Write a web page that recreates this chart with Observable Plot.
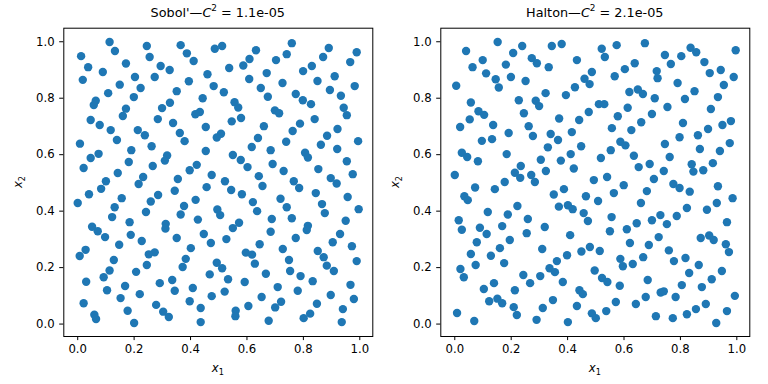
<!DOCTYPE html>
<html>
<head>
<meta charset="utf-8">
<script src="https://cdn.jsdelivr.net/npm/d3@7"></script>
<script src="https://cdn.jsdelivr.net/npm/@observablehq/plot@0.6"></script>
<style>
  body { margin: 0; background: white; }
  #fig { position: relative; width: 768px; height: 384px; background: white; font-family: "DejaVu Sans", sans-serif; color: black; }
  .panel { position: absolute; top: 0; }
  .lbl { position: absolute; white-space: nowrap; transform: translate(-50%, -50%); line-height: 1; }
  .title { font-size: 12.8px; }
  .axlbl { font-size: 11.7px; }
  sub, sup { font-size: 70%; line-height: 0; }
</style>
</head>
<body>
<div id="fig">
  <div class="panel" id="left" style="left:0px"></div>
  <div class="panel" id="right" style="left:384px"></div>
  <div class="lbl title" style="left:217.8px; top:13px">Sobol'—<i>C</i><sup>2</sup> = 1.1e-05</div>
  <div class="lbl title" style="left:594.8px; top:13px">Halton—<i>C</i><sup>2</sup> = 2.1e-05</div>
  <div class="lbl axlbl" style="left:217.8px; top:369px"><i>x</i><sub>1</sub></div>
  <div class="lbl axlbl" style="left:594.8px; top:369px"><i>x</i><sub>1</sub></div>
  <div class="lbl axlbl" style="left:19px; top:182px; transform: translate(-50%,-50%) rotate(-90deg)"><i>x</i><sub>2</sub></div>
  <div class="lbl axlbl" style="left:396px; top:182px; transform: translate(-50%,-50%) rotate(-90deg)"><i>x</i><sub>2</sub></div>
</div>
<script>
const tickValues = [0, 0.2, 0.4, 0.6, 0.8, 1.0];
const tickLabels = ["0.0", "0.2", "0.4", "0.6", "0.8", "1.0"];

const sobolX = [0.113,0.245,0.365,0.486,0.512,0.632,0.759,0.890,0.132,0.012,0.255,0.387,0.411,0.609,0.587,0.703,0.741,0.870,0.989,0.966,0.171,0.037,0.089,0.294,0.326,0.537,0.460,0.830,0.799,0.670,0.018,0.203,0.273,0.394,0.608,0.911,0.850,0.726,0.149,0.223,0.482,0.649,0.982,0.894,0.108,0.351,0.518,0.773,0.199,0.443,0.674,0.798,0.933,0.064,0.057,0.327,0.556,0.569,0.827,0.299,0.171,0.943,0.699,0.714,0.433,0.417,0.160,0.954,0.046,0.284,0.579,0.546,0.338,0.840,0.078,0.454,0.660,0.788,0.117,0.213,0.238,0.362,0.508,0.493,0.762,0.921,0.884,0.639,0.139,0.379,0.739,0.994,0.008,0.262,0.862,0.617,0.190,0.454,0.684,0.920,0.806,0.317,0.550,0.816,0.074,0.046,0.309,0.181,0.422,0.578,0.691,0.954,0.021,0.266,0.602,0.397,0.853,0.730,0.975,0.142,0.475,0.642,0.232,0.216,0.522,0.355,0.766,0.897,0.918,0.100,0.083,0.457,0.655,0.785,0.544,0.344,0.040,0.285,0.582,0.844,0.156,0.259,0.418,0.719,0.957,0.000,0.621,0.866,0.131,0.377,0.741,0.996,0.495,0.505,0.636,0.876,0.242,0.365,0.122,0.426,0.688,0.759,0.950,0.184,0.312,0.572,0.051,0.311,0.550,0.816,0.812,0.071,0.684,0.188,0.447,0.930,0.097,0.351,0.527,0.773,0.227,0.472,0.904,0.147,0.645,0.972,0.401,0.727,0.028,0.007,0.273,0.252,0.596,0.618,0.851,0.872,0.128,0.383,0.749,0.989,0.493,0.512,0.628,0.245,0.372,0.883,0.908,0.113,0.207,0.753,0.468,0.667,0.092,0.790,0.533,0.335,0.833,0.030,0.291,0.592,0.168,0.967,0.709,0.408,0.104,0.344,0.521,0.780,0.220,0.475,0.652,0.897,0.152,0.979,0.397,0.021,0.278,0.721,0.848,0.605,0.700,0.436,0.560,0.940,0.177,0.303,0.059,0.065,0.323,0.559,0.801,0.824,0.200,0.436,0.677,0.936];
const sobolY = [0.999,0.985,0.988,0.975,0.985,0.970,0.995,0.978,0.967,0.949,0.946,0.959,0.932,0.939,0.916,0.935,0.956,0.946,0.963,0.928,0.923,0.910,0.893,0.914,0.900,0.907,0.885,0.914,0.896,0.889,0.865,0.875,0.875,0.860,0.868,0.878,0.861,0.854,0.848,0.836,0.843,0.836,0.843,0.829,0.818,0.825,0.821,0.815,0.804,0.800,0.805,0.793,0.809,0.791,0.776,0.784,0.786,0.767,0.779,0.765,0.763,0.766,0.757,0.747,0.751,0.743,0.737,0.740,0.723,0.726,0.730,0.718,0.712,0.726,0.705,0.698,0.701,0.710,0.687,0.687,0.669,0.677,0.674,0.661,0.684,0.691,0.667,0.659,0.652,0.648,0.646,0.648,0.639,0.630,0.635,0.627,0.616,0.613,0.616,0.620,0.607,0.597,0.599,0.590,0.603,0.588,0.579,0.574,0.564,0.581,0.567,0.577,0.553,0.560,0.556,0.545,0.549,0.542,0.531,0.535,0.528,0.524,0.521,0.496,0.506,0.514,0.506,0.517,0.498,0.506,0.479,0.485,0.489,0.482,0.475,0.472,0.460,0.457,0.460,0.464,0.446,0.434,0.440,0.444,0.450,0.429,0.432,0.425,0.414,0.418,0.414,0.407,0.406,0.386,0.400,0.393,0.397,0.388,0.379,0.370,0.372,0.375,0.366,0.361,0.355,0.359,0.345,0.338,0.340,0.348,0.333,0.329,0.327,0.316,0.319,0.319,0.308,0.305,0.301,0.305,0.294,0.287,0.290,0.281,0.283,0.276,0.269,0.266,0.263,0.241,0.254,0.247,0.253,0.246,0.259,0.237,0.227,0.231,0.227,0.223,0.217,0.198,0.214,0.209,0.202,0.207,0.188,0.190,0.185,0.188,0.176,0.178,0.166,0.170,0.159,0.156,0.152,0.150,0.145,0.149,0.135,0.139,0.131,0.128,0.120,0.118,0.115,0.118,0.106,0.099,0.096,0.103,0.092,0.089,0.081,0.074,0.068,0.079,0.072,0.064,0.059,0.057,0.047,0.053,0.047,0.044,0.033,0.018,0.025,0.028,0.021,0.037,0.004,0.007,0.012,0.007];

const haltonX = [0.152,0.040,0.239,0.207,0.344,0.379,0.521,0.532,0.574,0.674,0.836,0.856,0.996,0.745,0.803,0.099,0.273,0.291,0.433,0.885,0.063,0.181,0.333,0.111,0.486,0.603,0.638,0.716,0.766,0.904,0.943,0.199,0.145,0.251,0.460,0.478,0.567,0.719,0.989,0.005,0.156,0.426,0.790,0.954,0.619,0.649,0.667,0.850,0.322,0.394,0.709,0.816,0.933,0.227,0.287,0.299,0.057,0.511,0.530,0.613,0.754,0.908,0.084,0.104,0.245,0.475,0.699,0.578,0.053,0.370,0.441,0.661,0.809,0.979,0.136,0.262,0.019,0.557,0.626,0.898,0.949,0.191,0.415,0.340,0.277,0.797,0.862,0.096,0.132,0.366,0.587,0.605,0.745,0.975,0.448,0.330,0.553,0.869,0.940,0.025,0.044,0.184,0.411,0.635,0.762,0.082,0.305,0.376,0.518,0.691,0.915,0.652,0.422,0.234,0.840,0.846,0.881,0.741,0.000,0.213,0.232,0.271,0.323,0.284,0.540,0.493,0.706,0.142,0.177,0.072,0.599,0.775,0.797,0.933,0.387,0.681,0.833,0.351,0.465,0.034,0.046,0.508,0.564,0.660,0.985,0.929,0.401,0.369,0.418,0.222,0.823,0.894,0.117,0.457,0.472,0.188,0.729,0.699,0.787,0.014,0.259,0.556,0.965,0.645,0.752,0.089,0.168,0.319,0.025,0.610,0.550,0.113,0.255,0.409,0.723,0.872,0.902,0.918,0.078,0.195,0.621,0.688,0.961,0.160,0.310,0.479,0.449,0.514,0.759,0.972,0.057,0.128,0.398,0.587,0.596,0.668,0.818,0.777,0.362,0.175,0.074,0.631,0.865,0.020,0.032,0.336,0.355,0.496,0.947,0.831,0.243,0.303,0.522,0.541,0.684,0.911,0.139,0.267,0.383,0.585,0.805,0.876,0.103,0.213,0.442,0.454,0.730,0.741,0.677,0.783,0.993,0.122,0.151,0.168,0.348,0.571,0.642,0.890,0.209,0.312,0.433,0.855,0.008,0.220,0.486,0.500,0.537,0.713,0.773,0.823,0.965,0.069,0.290,0.401,0.927];
const haltonY = [0.999,0.967,0.985,0.960,0.985,0.992,0.975,0.946,0.988,0.995,0.979,0.963,0.970,0.953,0.949,0.935,0.942,0.924,0.935,0.928,0.910,0.919,0.910,0.888,0.893,0.903,0.924,0.896,0.921,0.889,0.900,0.875,0.867,0.861,0.869,0.850,0.878,0.871,0.875,0.844,0.838,0.839,0.854,0.847,0.822,0.831,0.815,0.825,0.818,0.811,0.800,0.797,0.804,0.793,0.791,0.772,0.785,0.779,0.779,0.766,0.769,0.762,0.754,0.741,0.747,0.751,0.744,0.736,0.725,0.728,0.723,0.715,0.712,0.719,0.705,0.701,0.698,0.694,0.687,0.691,0.705,0.677,0.680,0.673,0.666,0.662,0.669,0.649,0.655,0.652,0.646,0.633,0.638,0.641,0.630,0.626,0.616,0.620,0.613,0.607,0.592,0.602,0.602,0.596,0.592,0.577,0.582,0.579,0.588,0.567,0.570,0.556,0.551,0.560,0.566,0.540,0.545,0.542,0.528,0.536,0.518,0.528,0.542,0.503,0.521,0.510,0.514,0.478,0.503,0.484,0.492,0.496,0.482,0.488,0.478,0.471,0.469,0.459,0.453,0.453,0.439,0.436,0.464,0.429,0.446,0.429,0.421,0.416,0.407,0.418,0.411,0.405,0.397,0.393,0.365,0.388,0.386,0.368,0.383,0.368,0.372,0.379,0.361,0.357,0.354,0.341,0.347,0.344,0.334,0.336,0.329,0.319,0.322,0.315,0.308,0.305,0.314,0.298,0.290,0.298,0.287,0.280,0.283,0.269,0.266,0.273,0.257,0.259,0.261,0.255,0.248,0.242,0.244,0.231,0.205,0.237,0.234,0.223,0.223,0.216,0.209,0.213,0.209,0.195,0.166,0.198,0.184,0.190,0.188,0.181,0.174,0.170,0.163,0.149,0.156,0.159,0.145,0.145,0.149,0.136,0.138,0.131,0.124,0.120,0.120,0.106,0.112,0.116,0.096,0.096,0.100,0.081,0.090,0.074,0.085,0.078,0.071,0.071,0.060,0.057,0.064,0.053,0.039,0.032,0.038,0.021,0.046,0.028,0.021,0.035,0.046,0.011,0.015,0.007,0.004];

function pairs(xs, ys) {
  const n = Math.min(xs.length, ys.length);
  return d3.range(n).map(i => ({x: xs[i], y: ys[i]}));
}

function panel(data, m) {
  return Plot.plot({
    width: 384,
    height: 384,
    marginLeft: m.left,
    marginRight: m.right,
    marginTop: 27.7,
    marginBottom: 48,
    style: {fontFamily: "DejaVu Sans", fontSize: "11.7px", color: "black", background: "white"},
    x: {domain: m.xDomain, label: null},
    y: {domain: [-0.044, 1.048], label: null},
    marks: [
      Plot.dot(data, {x: "x", y: "y", r: 4.2, fill: "#1f77b4", stroke: null}),
      Plot.frame({stroke: "black", strokeWidth: 1}),
      Plot.axisX({ticks: tickValues, tickFormat: (d, i) => tickLabels[i], tickSize: 4.1, tickPadding: 4, label: null}),
      Plot.axisY({ticks: tickValues, tickFormat: (d, i) => tickLabels[i], tickSize: 4.1, tickPadding: 5, label: null})
    ]
  });
}

document.getElementById("left").appendChild(
  panel(pairs(sobolX, sobolY), {left: 63.3, right: 11.7, xDomain: [-0.0493, 1.0461]})
);
document.getElementById("right").appendChild(
  panel(pairs(haltonX, haltonY), {left: 56.3, right: 18.7, xDomain: [-0.0496, 1.046]})
);
</script>
</body>
</html>
